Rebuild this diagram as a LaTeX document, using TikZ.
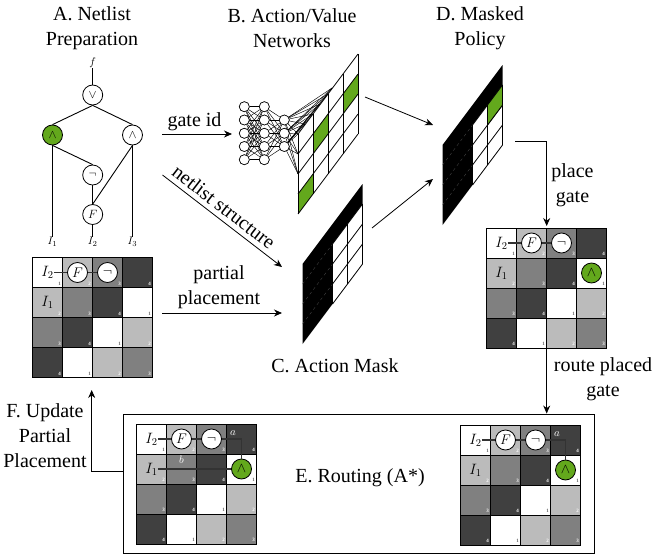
\RequirePackage{fix-cm}
\documentclass[tikz,border=0pt]{standalone}
\usepackage{fontspec}
\setmainfont{Liberation Serif}
\usetikzlibrary{arrows.meta}
\definecolor{gategreen}{HTML}{63A81C}
\definecolor{shA}{HTML}{FFFFFF}
\definecolor{shB}{HTML}{BBBBBB}
\definecolor{shC}{HTML}{808080}
\definecolor{shD}{HTML}{404040}
\tikzset{
  lbl/.style={font=\fontsize{20}{25}\selectfont,align=center,inner sep=0pt},
  gate/.style={circle,draw=black,line width=.8pt,fill=white,minimum size=20pt,inner sep=0pt,font=\fontsize{12}{14}\selectfont},
  ggate/.style={gate,fill=gategreen},
  bgate/.style={gate,font=\fontsize{14}{16}\selectfont},
  gbgate/.style={ggate,font=\fontsize{14}{16}\selectfont},
  term/.style={inner sep=0pt,font=\fontsize{11}{13}\selectfont},
  bterm/.style={inner sep=0pt,font=\fontsize{15}{17}\selectfont},
  wire/.style={line width=.9pt,black},
  gwire/.style={line width=1.1pt,black!80},
  flow/.style={line width=.8pt,-{Stealth[length=8pt,width=7pt]}},
  nn/.style={circle,draw=black,line width=.6pt,fill=white,minimum size=10pt,inner sep=0pt},
  nnw/.style={line width=.45pt,black},
  num/.style={inner sep=0pt,font=\fontsize{5}{6}\selectfont\bfseries,anchor=south east},
  gl/.style={line width=.8pt,black}
}
% board: x, y, prefix
\newcommand{\gboard}[3]{%
  \foreach \r in {0,1,2,3}{\foreach \c in {0,1,2,3}{%
    \pgfmathtruncatemacro{\v}{mod(\r+\c,4)+1}%
    \ifcase\v\or\def\sh{shA}\def\tc{black!60}\or\def\sh{shB}\def\tc{white}\or\def\sh{shC}\def\tc{white}\or\def\sh{shD}\def\tc{white}\fi
    \fill[\sh] ({#1+30*\c},{#2+30*\r}) rectangle ++(30,30);
    \node[num,text=\tc] at ({#1+30*\c+28.5},{#2+30*\r+28}) {\v};
  }}%
  \draw[gl] (#1,#2) rectangle ++(120,120);
  \foreach \k in {30,60,90}{\draw[gl] ({#1+\k},#2) -- ++(0,120); \draw[gl] (#1,{#2+\k}) -- ++(120,0);}%
  \node[bterm] (#3Itwo) at ({#1+15},{#2+15}) {$I_2$};
  \node[bterm] (#3Ione) at ({#1+15},{#2+45}) {$I_1$};
  \node[bgate] (#3F) at ({#1+45},{#2+15}) {$F$};
  \node[bgate] (#3N) at ({#1+75},{#2+15}) {$\neg$};
  \draw[gwire] (#3Itwo) -- (#3F);
  \draw[gwire] (#3F) -- (#3N);
}
% sheared cell path
\newcommand{\shcell}[4]{({#1+15*#3},{#2-20*#3+20*#4}) -- ++(15,-20) -- ++(0,20) -- ++(-15,20) -- cycle}
\newcommand{\shgrid}[3]{%
  \foreach \k in {0,1,2,3,4}{\draw[line width=#3] ({#1+15*\k},{#2-20*\k}) -- ++(0,80);
    \draw[line width=#3] (#1,{#2+20*\k}) -- ++(60,-80);}}
\newcommand{\shmask}[2]{%
  \fill[black] (#1,#2) -- ++(60,-80) -- ++(0,80) -- ++(-60,80) -- cycle;
  \fill[white] \shcell{#1}{#2}{2}{1};
  \fill[white] \shcell{#1}{#2}{2}{2};
  \fill[white] \shcell{#1}{#2}{2}{3};
  \fill[white] \shcell{#1}{#2}{3}{1};
  \fill[white] \shcell{#1}{#2}{3}{2};
  \fill[white] \shcell{#1}{#2}{3}{3};
  \foreach \k in {1,2,3}{\draw[black!70,line width=.3pt,dashed] (#1,{#2+20*\k}) -- ++(30,-40);}
  \foreach \k in {1,2,3,4}{\draw[line width=.8pt] ({#1+30},{#2-40+20*\k}) -- ++(30,-40);}
  \draw[line width=.8pt] ({#1+45},{#2-40}) -- ++(0,60);
  \draw[line width=.8pt] ({#1+60},{#2-60}) -- ++(0,60);
  \draw[line width=.8pt] ({#1+30},{#2-20}) -- ++(0,60);
}
\begin{document}
\begin{tikzpicture}[x=1pt,y=-1pt]
\useasboundingbox (0,0) rectangle (664,554);
% titles
\node[lbl] (tA) at (92,28) {A. Netlist\\Preparation};
\node[lbl] (tB) at (292,28) {B. Action/Value\\Networks};
\node[lbl] (tD) at (480,28) {D. Masked\\Policy};
\node[lbl] (tC) at (335,366) {C. Action Mask};
\node[lbl] (tE) at (360,478) {E. Routing (A*)};
\node[lbl] (tF) at (45,436) {F. Update\\Partial\\Placement};
% netlist
\node[term] (f) at (92.7,63) {$f$};
\node[gate] (or) at (92.7,95) {$\vee$};
\node[ggate] (al) at (52.5,135) {$\wedge$};
\node[gate] (ar) at (132.5,135) {$\wedge$};
\node[gate] (no) at (92.7,175) {$\neg$};
\node[gate] (ff) at (92.7,214.5) {$F$};
\node[term] (i1) at (52.5,242) {$I_1$};
\node[term] (i2) at (92.7,242) {$I_2$};
\node[term] (i3) at (132.5,242) {$I_3$};
\draw[wire] (f) -- (or);
\draw[wire] (or.south) -- (al.north);
\draw[wire] (or.south) -- (ar.north);
\draw[wire] (al.south) -- (no.north);
\draw[wire] (al.south) -- (i1);
\draw[wire] (ar.south) -- (ff.north);
\draw[wire] (ar.south) -- (i3);
\draw[wire] (no) -- (ff);
\draw[wire] (ff) -- (i2);
% boards
\gboard{32.5}{257.5}{pa}
\gboard{486.5}{228}{pb}
\node[gbgate] (pbA) at (591.5,273) {$\wedge$};
\gboard{136.5}{424}{ec}
\node[gbgate] (ecA) at (241.5,469) {$\wedge$};
\coordinate (ecK) at (241.5,439);
\draw[gwire] (ecN) -- (ecK) -- (ecA);
\draw[gwire] (ecIone) -- (ecA);
\node[term,text=white] (ecLa) at (233,433) {$a$};
\node[term,text=white] (ecLb) at (181.5,460) {$b$};
\gboard{460.5}{425}{ed}
\node[gbgate] (edA) at (565.5,470) {$\wedge$};
\coordinate (edK) at (565.5,440);
\draw[gwire] (edN) -- (edK) -- (edA);
\node[term,text=white] (edLa) at (557,434) {$a$};
% B networks
\foreach \i/\y in {1/106.7,2/120,3/133.3,4/146.5,5/159.7}{\node[nn] (n1\i) at (244.3,\y) {};\node[nn] (n2\i) at (264.3,\y) {};}
\foreach \i/\y in {1/120,2/133.3,3/146.5}{\node[nn] (n3\i) at (284.3,\y) {};}
\foreach \i in {1,...,5}{\foreach \j in {1,...,5}{\draw[nnw] (n1\i) -- (n2\j);}}
\foreach \i in {1,...,5}{\foreach \j in {1,2,3}{\draw[nnw] (n2\i) -- (n3\j);}}
\fill[gategreen] \shcell{298}{134}{0}{3};
\fill[gategreen] \shcell{298}{134}{1}{1};
\fill[gategreen] \shcell{298}{134}{3}{1};
\shgrid{298}{134}{.8pt}
\foreach \j in {1,2,3}{
 \foreach \px/\py in {298/134,298/154,298/174,305/124,313/114,320/104,328/94,332/88}{
  \coordinate (fan) at (\px,\py);
  \draw[nnw] (n3\j) -- (fan);}}
\foreach \i in {1,...,5}{\node[nn] (m1\i) at (n1\i) {};\node[nn] (m2\i) at (n2\i) {};}
\foreach \i in {1,2,3}{\node[nn] (m3\i) at (n3\i) {};}
% C, D masks
\shmask{302.5}{264}
\shmask{442.5}{145}
\fill[gategreen] \shcell{442.5}{145}{3}{1};
\draw[line width=.8pt] (487.5,105) -- ++(15,-20) (487.5,125) -- ++(15,-20) (487.5,105) -- ++(0,20) (502.5,85) -- ++(0,20);
% routing box
\node[draw=black,line width=1pt,minimum width=471pt,minimum height=139pt,inner sep=0pt,anchor=north west] (ebox) at (123,413.5) {};
% connectors
\coordinate (c1) at (162,134); \coordinate (c2) at (232,134);
\coordinate (c3) at (162.5,175); \coordinate (c4) at (282,267);
\coordinate (c5) at (162,313); \coordinate (c6) at (282,313);
\coordinate (c7) at (365,97); \coordinate (c8) at (433,125);
\coordinate (c9) at (372,228); \coordinate (c10) at (433,179);
\coordinate (c11) at (515,141); \coordinate (c12) at (546.7,141); \coordinate (c13) at (546.7,226);
\coordinate (c14) at (546.7,349); \coordinate (c15) at (91.7,471.7); \coordinate (c16) at (91.7,390);
\draw[flow] (c1) -- (c2);
\draw[flow] (c3) -- (c4);
\draw[flow] (c5) -- (c6);
\draw[flow] (c7) -- (c8);
\draw[flow] (c9) -- (c10);
\draw[flow] (c11) -- (c12) -- (c13);
\draw[flow] (c14) -- (ebox.north -| c14);
\draw[flow] (ebox.west |- c15) -- (c15) -- (c16);
% labels
\node[lbl] (lg) at (194.5,122) {gate id};
\node[lbl,rotate=-37.7] (ln) at (224,207) {netlist structure};
\node[lbl] (lp) at (219,287) {partial\\placement};
\node[lbl] (lpg) at (572.5,185) {place\\gate};
\node[lbl] (lr) at (603,379) {route placed\\gate};
\end{tikzpicture}
\end{document}
